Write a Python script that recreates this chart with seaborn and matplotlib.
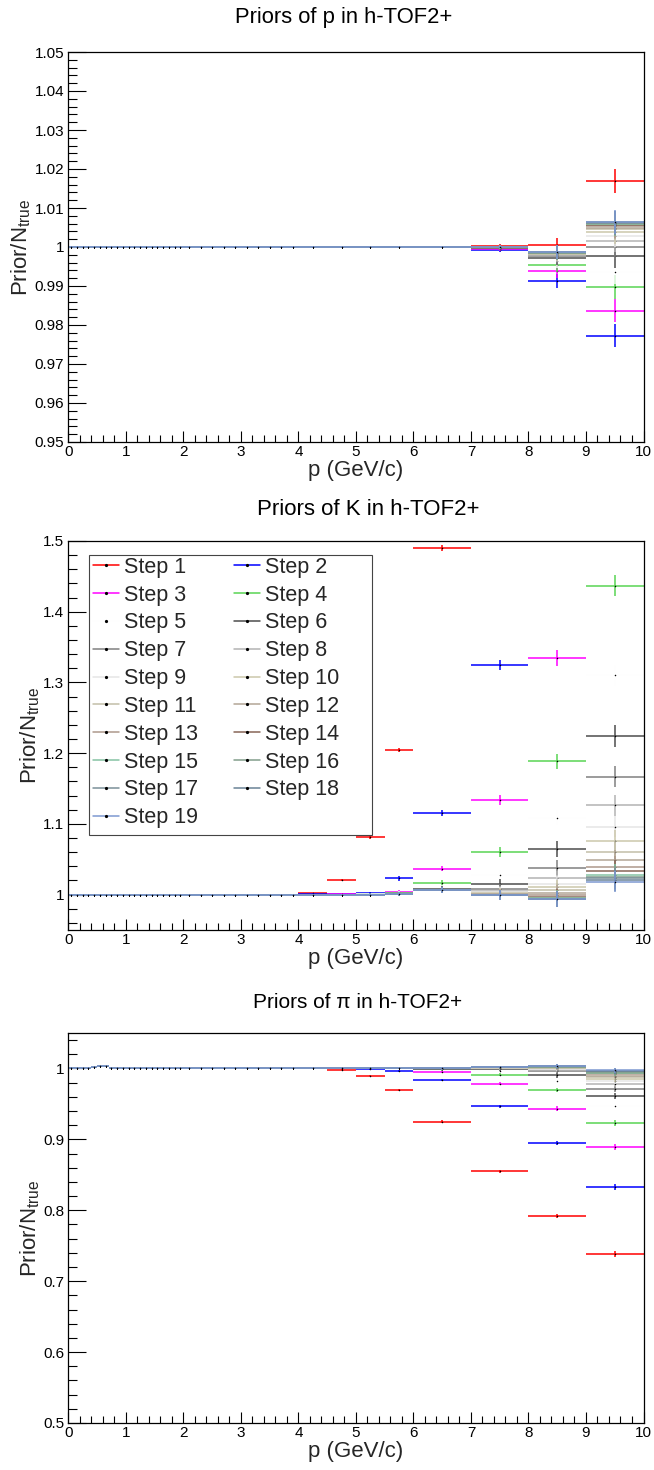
import matplotlib
matplotlib.use("Agg")
import matplotlib.pyplot as plt
from matplotlib.lines import Line2D
from matplotlib.patches import Rectangle
from matplotlib.ticker import MultipleLocator, FuncFormatter
import seaborn as sns

# ---------------- data ----------------
bin_edges = [0.0, 0.1, 0.2, 0.3, 0.4, 0.5, 0.6, 0.7, 0.8, 0.9, 1.0,
             1.1, 1.2, 1.3, 1.4, 1.5, 1.6, 1.7, 1.8, 1.9, 2.0,
             2.2, 2.4, 2.6, 2.8, 3.0, 3.2, 3.4, 3.6, 3.8, 4.0,
             4.5, 5.0, 5.5, 6.0, 7.0, 8.0, 9.0, 10.0]

step_labels = ["Step %d" % k for k in range(1, 20)]
# ROOT colour indices 2,4,6,...,38
step_colors = ["#ff0000", "#0000ff", "#ff00ff", "#59d454", "#fefefe",
               "#4d4d4d", "#808080", "#b3b3b3", "#e6e6e6", "#ccc7ab",
               "#c2bfa8", "#b3a696", "#ad998c", "#876657", "#85c2a3",
               "#829e8c", "#7a8f99", "#698296", "#7d99d1"]

# values of the 30 fine bins (0-4 GeV/c), common to all steps
p_low = [1.0, 1.0, 1.0, 1.0, 1.0, 1.0, 1.0, 1.0, 1.0, 1.0,
         1.0, 1.0, 1.0, 1.0, 1.0, 1.0, 1.0, 1.0, 1.0, 1.0,
         1.0, 1.0, 1.0, 1.0, 1.0, 1.0, 1.0, 1.0, 1.0, 1.0]
k_low = [1.0, 1.0, 1.0, 1.0, 1.0, 1.0, 1.0, 1.0, 1.0, 1.0,
         1.0, 1.0, 1.0, 1.0, 1.0, 1.0, 1.0, 1.0, 1.0, 1.0,
         1.0, 1.0, 1.0, 1.0, 1.0, 1.0, 1.0, 1.0, 1.0, 1.0]
pi_low = [1.0, 1.0, 1.0, 1.0012, 1.0015, 1.003, 1.0035, 1.0008, 1.0005, 1.0005,
          1.0003, 1.0003, 1.0002, 1.0002, 1.0002, 1.0002, 1.0002, 1.0002, 1.0002, 1.0002,
          1.0002, 1.0002, 1.0002, 1.0002, 1.0002, 1.0002, 1.0002, 1.0002, 1.0002, 1.0002]
low_err = [0.0003, 0.0003, 0.0003, 0.0003, 0.0003, 0.0003, 0.0003, 0.0003, 0.0003, 0.0003,
           0.0003, 0.0003, 0.0003, 0.0003, 0.0003, 0.0003, 0.0003, 0.0003, 0.0003, 0.0003,
           0.0003, 0.0003, 0.0003, 0.0003, 0.0003, 0.0003, 0.0003, 0.0003, 0.0003, 0.0003]

# per-step values in bins 4-4.5, 4.5-5, 5-5.5, 5.5-6, 6-7, 7-8, 8-9, 9-10
p_high = [
    [1.0, 1.0, 1.0, 1.0, 1.0, 1.0003, 1.0005, 1.0169],
    [1.0, 1.0, 1.0, 1.0, 1.0, 0.9993, 0.9913, 0.9773],
    [1.0, 1.0, 1.0, 1.0, 1.0, 0.9995, 0.9939, 0.9837],
    [1.0, 1.0, 1.0, 1.0, 1.0, 0.9997, 0.9955, 0.9897],
    [1.0, 1.0, 1.0, 1.0, 1.0, 0.9998, 0.9965, 0.9935],
    [1.0, 1.0, 1.0, 1.0, 1.0, 0.9998, 0.9972, 0.9976],
    [1.0, 1.0, 1.0, 1.0, 1.0, 0.9998, 0.9976, 1.0000],
    [1.0, 1.0, 1.0, 1.0, 1.0, 0.9998, 0.9979, 1.0016],
    [1.0, 1.0, 1.0, 1.0, 1.0, 0.9998, 0.9981, 1.0029],
    [1.0, 1.0, 1.0, 1.0, 1.0, 0.9998, 0.9982, 1.0038],
    [1.0, 1.0, 1.0, 1.0, 1.0, 0.9998, 0.9983, 1.0045],
    [1.0, 1.0, 1.0, 1.0, 1.0, 0.9998, 0.9984, 1.0050],
    [1.0, 1.0, 1.0, 1.0, 1.0, 0.9998, 0.9984, 1.0054],
    [1.0, 1.0, 1.0, 1.0, 1.0, 0.9998, 0.9985, 1.0057],
    [1.0, 1.0, 1.0, 1.0, 1.0, 0.9999, 0.9985, 1.0059],
    [1.0, 1.0, 1.0, 1.0, 1.0, 0.9999, 0.9985, 1.0061],
    [1.0, 1.0, 1.0, 1.0, 1.0, 0.9999, 0.9986, 1.0062],
    [1.0, 1.0, 1.0, 1.0, 1.0, 0.9999, 0.9986, 1.0063],
    [1.0, 1.0, 1.0, 1.0, 1.0, 1.0000, 0.9986, 1.0064],
]
p_err = [0.0002, 0.0002, 0.0002, 0.0002, 0.0003, 0.0005, 0.0018, 0.003]

k_high = [
    [1.0018, 1.0205, 1.0813, 1.2048, 1.4903, 1.62, 1.70, 1.75],
    [1.0002, 1.0008, 1.0020, 1.0229, 1.1150, 1.3244, 1.56, 1.68],
    [1.0, 1.0003, 1.0008, 1.0032, 1.0369, 1.1332, 1.3343, 1.54],
    [1.0, 1.0, 1.0004, 1.0025, 1.0163, 1.0603, 1.1884, 1.4366],
    [1.0, 1.0, 1.0002, 1.0015, 1.0100, 1.0280, 1.1089, 1.3100],
    [1.0, 1.0, 1.0, 1.0010, 1.0080, 1.0149, 1.0645, 1.2244],
    [1.0, 1.0, 1.0, 1.0010, 1.0070, 1.0079, 1.0383, 1.1669],
    [1.0, 1.0, 1.0, 1.0010, 1.0070, 1.0050, 1.0229, 1.1262],
    [1.0, 1.0, 1.0, 1.0010, 1.0070, 1.0035, 1.0149, 1.0958],
    [1.0, 1.0, 1.0, 1.0010, 1.0070, 1.0020, 1.0102, 1.0757],
    [1.0, 1.0, 1.0, 1.0010, 1.0070, 1.0010, 1.0060, 1.0603],
    [1.0, 1.0, 1.0, 1.0010, 1.0070, 1.0005, 1.0020, 1.0485],
    [1.0, 1.0, 1.0, 1.0010, 1.0070, 1.0000, 0.9990, 1.0393],
    [1.0, 1.0, 1.0, 1.0010, 1.0070, 0.9995, 0.9970, 1.0337],
    [1.0, 1.0, 1.0, 1.0010, 1.0070, 0.9993, 0.9955, 1.0280],
    [1.0, 1.0, 1.0, 1.0010, 1.0070, 0.9990, 0.9945, 1.0252],
    [1.0, 1.0, 1.0, 1.0010, 1.0070, 0.9990, 0.9940, 1.0229],
    [1.0, 1.0, 1.0, 1.0010, 1.0070, 0.9990, 0.9937, 1.0205],
    [1.0, 1.0, 1.0, 1.0010, 1.0070, 0.9990, 0.9935, 1.0182],
]
k_err = [0.001, 0.0015, 0.002, 0.003, 0.004, 0.007, 0.011, 0.015]

pi_high = [
    [1.0, 0.9980, 0.9898, 0.9697, 0.9248, 0.855, 0.792, 0.738],
    [1.0, 1.0, 0.9995, 0.9968, 0.9837, 0.9467, 0.8944, 0.833],
    [1.0, 1.0, 1.0, 1.0005, 0.9954, 0.9785, 0.9435, 0.8888],
    [1.0, 1.0, 1.0, 1.0003, 0.9986, 0.9912, 0.9697, 0.9234],
    [1.0, 1.0, 1.0, 1.0003, 0.9995, 0.9970, 0.9818, 0.9467],
    [1.0, 1.0, 1.0, 1.0003, 0.9998, 0.9990, 0.9902, 0.9607],
    [1.0, 1.0, 1.0, 1.0003, 1.0000, 1.0000, 0.9960, 0.9711],
    [1.0, 1.0, 1.0, 1.0003, 1.0000, 1.0005, 0.9985, 0.9785],
    [1.0, 1.0, 1.0, 1.0003, 1.0005, 1.0010, 0.9995, 0.9820],
    [1.0, 1.0, 1.0, 1.0003, 1.0005, 1.0010, 1.0005, 0.9850],
    [1.0, 1.0, 1.0, 1.0003, 1.0005, 1.0015, 1.0010, 0.9880],
    [1.0, 1.0, 1.0, 1.0003, 1.0005, 1.0015, 1.0015, 0.9900],
    [1.0, 1.0, 1.0, 1.0003, 1.0005, 1.0015, 1.0020, 0.9915],
    [1.0, 1.0, 1.0, 1.0003, 1.0005, 1.0015, 1.0022, 0.9930],
    [1.0, 1.0, 1.0, 1.0003, 1.0005, 1.0018, 1.0025, 0.9940],
    [1.0, 1.0, 1.0, 1.0003, 1.0005, 1.0018, 1.0027, 0.9950],
    [1.0, 1.0, 1.0, 1.0003, 1.0005, 1.0018, 1.0028, 0.9958],
    [1.0, 1.0, 1.0, 1.0003, 1.0005, 1.0020, 1.0030, 0.9965],
    [1.0, 1.0, 1.0, 1.0003, 1.0005, 1.0020, 1.0030, 0.9972],
]
pi_err = [0.0005, 0.0008, 0.001, 0.0015, 0.002, 0.002, 0.003, 0.004]

titles = ["Priors of p in h-TOF2+", "Priors of K in h-TOF2+", "Priors of \u03c0 in h-TOF2+"]
x_label = "p (GeV/c)"
y_label = "Prior/N$_{\\mathrm{true}}$"

# ---------------- style ----------------
sns.set_theme(style="ticks")
plt.rcParams["font.family"] = ["Liberation Sans", "DejaVu Sans"]
plt.rcParams["mathtext.fontset"] = "custom"
plt.rcParams["mathtext.rm"] = "Liberation Sans"
plt.rcParams["mathtext.it"] = "Liberation Sans:italic"

W, H = 654, 1470
fig = plt.figure(figsize=(W / 100, H / 100), dpi=100)

def rect(left, top, right, bottom):
    return [left / W, 1 - bottom / H, (right - left) / W, (bottom - top) / H]

panels = [
    dict(rect=rect(68.3, 52, 643.5, 442), low=p_low, high=p_high, err=p_err,
         ylim=(0.95, 1.05), major=0.01, minor=0.002,
         title_x=344, title_y=18, title_size=15.8),
    dict(rect=rect(68.3, 541, 643.5, 930), low=k_low, high=k_high, err=k_err,
         ylim=(0.95, 1.5), major=0.1, minor=0.02,
         title_x=368, title_y=510, title_size=16.0),
    dict(rect=rect(68.3, 1033, 643.5, 1423), low=pi_low, high=pi_high, err=pi_err,
         ylim=(0.5, 1.05), major=0.1, minor=0.02,
         title_x=358, title_y=1002, title_size=15),
]

centers = [(a + b) / 2 for a, b in zip(bin_edges[:-1], bin_edges[1:])]
halfw = [(b - a) / 2 for a, b in zip(bin_edges[:-1], bin_edges[1:])]

def fmt(v, pos):
    s = "%.2f" % v
    s = s.rstrip("0").rstrip(".")
    return s

axes = []
for pi_, spec in enumerate(panels):
    ax = fig.add_axes(spec["rect"])
    axes.append(ax)
    errs = low_err + spec["err"]
    for i, col in enumerate(step_colors):
        yv = spec["low"] + spec["high"][i]
        ax.errorbar(centers, yv, xerr=halfw, yerr=errs, fmt="none",
                    ecolor=col, elinewidth=1.1, capsize=0, zorder=2 + i * 0.02)
        sns.scatterplot(x=centers, y=yv, ax=ax, color="black", s=1.2,
                        marker="o", linewidth=0, legend=False, zorder=2.01 + i * 0.02)
    ax.set_xlim(0, 10)
    ax.set_ylim(*spec["ylim"])
    ax.xaxis.set_major_locator(MultipleLocator(1))
    ax.xaxis.set_minor_locator(MultipleLocator(0.2))
    ax.yaxis.set_major_locator(MultipleLocator(spec["major"]))
    ax.yaxis.set_minor_locator(MultipleLocator(spec["minor"]))
    ax.yaxis.set_major_formatter(FuncFormatter(fmt))
    ax.tick_params(axis="both", which="both", direction="in", top=False, right=False,
                   colors="black", width=0.8, labelsize=11)
    ax.tick_params(axis="y", which="major", length=12.7, pad=3)
    ax.tick_params(axis="y", which="minor", length=6.7)
    ax.tick_params(axis="x", which="major", length=8, pad=2)
    ax.tick_params(axis="x", which="minor", length=5)
    for sp in ax.spines.values():
        sp.set_linewidth(0.9)
        sp.set_color("black")
    ax.set_xlabel(x_label, fontsize=16, labelpad=1)
    ax.set_ylabel(y_label, fontsize=16, labelpad=1)
    ax.grid(False)
    fig.text(spec["title_x"] / W, 1 - spec["title_y"] / H, titles[pi_], ha="center",
             va="center", fontsize=spec["title_size"], color="black")

# legend in the K panel (row-major order like the original: 1 2 / 3 4 / ...)
order = [0, 2, 4, 6, 8, 10, 12, 14, 16, 18, 1, 3, 5, 7, 9, 11, 13, 15, 17]
handles = [Line2D([], [], color=step_colors[j], lw=1.1, marker="o", markersize=1.3,
                  markerfacecolor="black", markeredgecolor="black") for j in order]
labels = [step_labels[j] for j in order]
axk = axes[1]
axk.add_patch(Rectangle((0.0365, 0.2442), 0.4910, 0.7198, transform=axk.transAxes,
                        facecolor="white", edgecolor="#444444", linewidth=0.8,
                        zorder=5, clip_on=False))
leg = axk.legend(handles, labels, ncol=2, loc="upper left",
                 bbox_to_anchor=(0.0429, 0.9594), fontsize=15.5, frameon=False,
                 handlelength=1.21, handletextpad=0.25, columnspacing=1.65,
                 labelspacing=0.317, borderpad=0.0, numpoints=1, borderaxespad=0)
leg.set_zorder(6)

fig.savefig("out.png", dpi=100)
